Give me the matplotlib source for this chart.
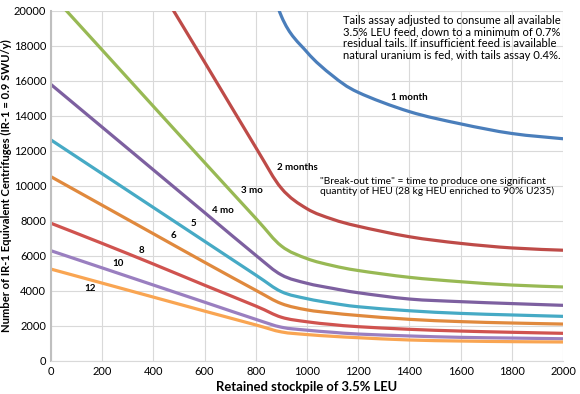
import numpy as np
import matplotlib
matplotlib.use('Agg')
from matplotlib import pyplot as plt
from matplotlib.path import Path
from matplotlib.patches import PathPatch

# data
x_main = [0, 200, 400, 600, 800, 900, 1000, 1100, 1200, 1400, 1600, 1800, 2000]
x_1mo = [800, 900, 1000, 1100, 1200, 1400, 1600, 1800, 2000]

n_1mo = [24500, 19700, 17650, 16300, 15350, 14250, 13550, 13000, 12700]
n_2mo = [31600, 26760, 21920, 17080, 12200, 9870, 8700, 8100, 7700, 7100, 6720, 6460, 6330]
n_3mo = [20980, 17770, 14550, 11340, 8150, 6570, 5850, 5450, 5170, 4780, 4530, 4340, 4230]
n_4mo = [15800, 13360, 10920, 8480, 6040, 4920, 4440, 4150, 3900, 3540, 3390, 3280, 3180]
n_5mo = [12630, 10700, 8770, 6840, 4910, 3960, 3560, 3300, 3100, 2870, 2720, 2630, 2550]
n_6mo = [10530, 8900, 7270, 5640, 4040, 3280, 2920, 2740, 2600, 2380, 2250, 2170, 2110]
n_8mo = [7870, 6720, 5540, 4330, 3140, 2500, 2240, 2080, 1960, 1810, 1710, 1640, 1580]
n_10mo = [6300, 5320, 4340, 3360, 2380, 1930, 1760, 1640, 1540, 1430, 1350, 1310, 1270]
n_12mo = [5250, 4450, 3650, 2850, 2060, 1660, 1510, 1410, 1330, 1200, 1140, 1105, 1085]

series = [
    (x_1mo, n_1mo, '#4A7EBB', '1 month', 1398, 15030),
    (x_main, n_2mo, '#BE4B48', '2 months', 963, 11057),
    (x_main, n_3mo, '#98B954', '3 mo', 785, 9714),
    (x_main, n_4mo, '#7D60A0', '4 mo', 672, 8571),
    (x_main, n_5mo, '#46AAC5', '5', 556, 7829),
    (x_main, n_6mo, '#E0893D', '6', 478, 7143),
    (x_main, n_8mo, '#D0534F', '8', 352, 6305),
    (x_main, n_10mo, '#9A7FC0', '10', 263, 5543),
    (x_main, n_12mo, '#F9A552', '12', 152, 4114),
]


def smooth_path(xs, ys):
    # spreadsheet style smoothed line: cubic bezier through the points
    p = np.column_stack([xs, ys]).astype(float)
    ext = np.vstack([p[0], p, p[-1]])
    verts = [p[0]]
    codes = [Path.MOVETO]
    for i in range(len(p) - 1):
        a, b, c, d = ext[i], ext[i + 1], ext[i + 2], ext[i + 3]
        verts += [b + (c - a) / 6.0, c - (d - b) / 6.0, c]
        codes += [Path.CURVE4] * 3
    return Path(verts, codes)


plt.rcParams['font.family'] = ['Lato', 'DejaVu Sans']

fig = plt.figure(figsize=(5.8, 3.94), dpi=100)
ax = fig.add_axes([0.0879, 0.0838, 0.9707 - 0.0879, 0.9721 - 0.0838])

for xs, ys, col, lab, lx, ly in series:
    ax.add_patch(PathPatch(smooth_path(xs, ys), fill=False, edgecolor=col, lw=2.3,
                           joinstyle='round', capstyle='round'))
    ax.text(lx, ly, lab, fontsize=7, fontweight='bold', ha='center', va='center')

ax.set_xlim(0, 2000)
ax.set_ylim(0, 20000)
ax.set_xticks(np.arange(0, 2001, 200))
ax.set_yticks(np.arange(0, 20001, 2000))
ax.grid(True, color='#D9D9D9', lw=0.8)
ax.set_axisbelow(True)
for s in ['top', 'right']:
    ax.spines[s].set_visible(False)
ax.spines['left'].set_color('#BFBFBF')
ax.spines['left'].set_linewidth(1.5)
ax.spines['bottom'].set_color('#D9D9D9')
ax.tick_params(length=0, pad=3.5, labelsize=8)

ax.set_xlabel('Retained stockpile of 3.5% LEU', fontsize=9.4, fontweight='bold', labelpad=3)
ax.set_ylabel('Number of IR-1 Equivalent Centrifuges (IR-1 = 0.9 SWU/y)', fontsize=8.1,
              fontweight='bold')
ax.yaxis.set_label_coords(-0.076, 0.5)

ax.text(1141, 19770, 'Tails assay adjusted to consume all available\n'
        '3.5% LEU feed, down to a minimum of 0.7%\n'
        'residual tails. If insufficient feed is available\n'
        'natural uranium is fed, with tails assay 0.4%.',
        fontsize=8.1, ha='left', va='top', linespacing=1.08)
ax.text(1051, 10514, '"Break-out time" = time to produce one significant\n'
        'quantity of HEU (28 kg HEU enriched to 90% U235)',
        fontsize=7.4, ha='left', va='top', linespacing=1.0)

fig.savefig('out.png', dpi=100)
